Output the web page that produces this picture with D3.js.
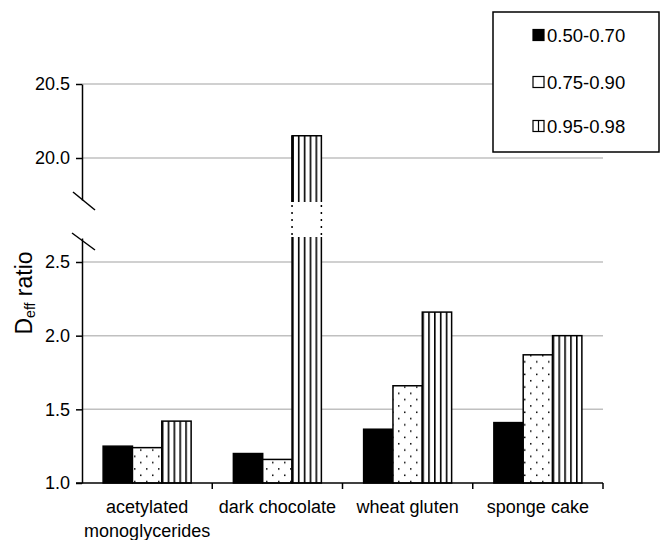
<!DOCTYPE html>
<html><head><meta charset="utf-8">
<script src="https://cdn.jsdelivr.net/npm/d3@7"></script>
<style>
body{margin:0;background:#fff}
svg{display:block}
text{font-family:"Liberation Sans",Arial,sans-serif;fill:#000}
</style></head>
<body><svg id="c" width="660" height="540"></svg>
<script>
// ---- data ----
const categories = ["acetylated monoglycerides", "dark chocolate", "wheat gluten", "sponge cake"];
const categoryLines = [["acetylated", "monoglycerides"], ["dark chocolate"], ["wheat gluten"], ["sponge cake"]];
const seriesNames = ["0.50-0.70", "0.75-0.90", "0.95-0.98"];
const values050 = [1.25, 1.20, 1.365, 1.41];
const values075 = [1.24, 1.16, 1.66, 1.87];
const values095 = [1.42, 20.15, 2.16, 2.00];
const upperTicks = [20.0, 20.5];
const lowerTicks = [1.0, 1.5, 2.0, 2.5];
const series = [values050, values075, values095];

// ---- layout ----
const svg = d3.select("#c");
const left = 82, right = 603, base = 483;
const x = d3.scaleBand().domain(categories).range([left, right]);
const xs = d3.scaleBand().domain(seriesNames).range([0, x.bandwidth()]).paddingOuter(0.72);
const yLow = d3.scaleLinear().domain([1.0, 2.5]).range([base, 262]);
const yUp = d3.scaleLinear().domain([20.0, 20.5]).range([158, 84]);
const upAxisMin = yUp.invert(200), lowAxisMax = yLow.invert(238);
const barUpStart = yUp.invert(202), barLowEnd = yLow.invert(237);

const defs = svg.append("defs");
const pd = defs.append("pattern").attr("id", "dots").attr("patternUnits", "userSpaceOnUse")
  .attr("width", 12).attr("height", 12.6);
pd.append("rect").attr("width", 12).attr("height", 12.6).attr("fill", "#fff");
pd.append("rect").attr("x", 2).attr("y", 2).attr("width", 1.5).attr("height", 1.5).attr("fill", "#000");
pd.append("rect").attr("x", 8).attr("y", 8.3).attr("width", 1.5).attr("height", 1.5).attr("fill", "#000");
const pv = defs.append("pattern").attr("id", "vert").attr("patternUnits", "objectBoundingBox")
  .attr("width", 0.2).attr("height", 1);
pv.append("rect").attr("width", 20).attr("height", 2000).attr("fill", "#fff");
pv.append("rect").attr("x", 0).attr("width", 1.6).attr("height", 2000).attr("fill", "#000");
const fills = ["#000", "url(#dots)", "url(#vert)"];

// gridlines
const grid = svg.append("g").attr("stroke", "#c0c0c0").attr("stroke-width", 1.5);
upperTicks.forEach(t => grid.append("line").attr("x1", left).attr("x2", right).attr("y1", yUp(t)).attr("y2", yUp(t)));
lowerTicks.filter(t => t > 1).forEach(t => grid.append("line").attr("x1", left).attr("x2", right).attr("y1", yLow(t)).attr("y2", yLow(t)));

// bars
const gb = svg.append("g");
categories.forEach((c, i) => {
  series.forEach((vals, j) => {
    const v = vals[i];
    const bx = x(c) + xs(seriesNames[j]), bw = xs.bandwidth();
    if (v <= lowAxisMax) {
      gb.append("rect").attr("x", bx).attr("y", yLow(v)).attr("width", bw).attr("height", yLow(1.0) - yLow(v))
        .attr("fill", fills[j]).attr("stroke", "#000").attr("stroke-width", 1.5);
    } else {
      const yl = yLow(barLowEnd), yu = yUp(barUpStart), yt = yUp(v);
      gb.append("rect").attr("x", bx).attr("y", yl).attr("width", bw).attr("height", yLow(1.0) - yl).attr("fill", fills[j]);
      gb.append("rect").attr("x", bx).attr("y", yt).attr("width", bw).attr("height", yu - yt).attr("fill", fills[j]);
      const ol = gb.append("g").attr("stroke", "#000").attr("stroke-width", 1.5).attr("fill", "none");
      ol.append("path").attr("d", `M${bx},${yl}V${base}H${bx + bw}V${yl}`);
      ol.append("path").attr("d", `M${bx},${yu}V${yt}H${bx + bw}V${yu}`);
      ol.append("line").attr("x1", bx + 0.5).attr("x2", bx + 0.5).attr("y1", yt).attr("y2", yu).attr("stroke-width", 2.5);
      const dl = gb.append("g").attr("stroke", "#000").attr("stroke-width", 1.5).attr("stroke-dasharray", "2,5");
      dl.append("line").attr("x1", bx).attr("x2", bx).attr("y1", yu + 3).attr("y2", yl);
      dl.append("line").attr("x1", bx + bw).attr("x2", bx + bw).attr("y1", yu + 3).attr("y2", yl);
    }
  });
});

// axes
const upScale = yUp.copy().domain([upAxisMin, 20.5]).range([yUp(upAxisMin), yUp(20.5)]);
const lowScale = yLow.copy().domain([1.0, lowAxisMax]).range([yLow(1.0), yLow(lowAxisMax)]);
function styleAxis(g) {
  g.selectAll("path, line").attr("stroke", "#000").attr("stroke-width", 1.5);
  g.selectAll("text").style("font-size", "18px").attr("fill", "#000");
}
svg.append("g").attr("transform", `translate(${left},0)`)
  .call(d3.axisLeft(upScale).tickValues(upperTicks).tickFormat(d3.format(".1f")).tickSize(6).tickSizeOuter(0).tickPadding(6))
  .call(styleAxis);
svg.append("g").attr("transform", `translate(${left},0)`)
  .call(d3.axisLeft(lowScale).tickValues(lowerTicks).tickFormat(d3.format(".1f")).tickSize(6).tickSizeOuter(0).tickPadding(6))
  .call(styleAxis);
// break marks
const brk = svg.append("g").attr("stroke", "#000").attr("stroke-width", 1.5);
brk.append("line").attr("x1", 73).attr("y1", 192).attr("x2", 95).attr("y2", 210);
brk.append("line").attr("x1", 72).attr("y1", 233).attr("x2", 95).attr("y2", 250);

// x axis
const xb = svg.append("g");
xb.append("line").attr("x1", left - 6).attr("x2", right).attr("y1", base).attr("y2", base)
  .attr("stroke", "#000").attr("stroke-width", 1.5);
categories.forEach(c => {
  xb.append("line").attr("x1", x(c) + x.step()).attr("x2", x(c) + x.step()).attr("y1", base).attr("y2", base + 6)
    .attr("stroke", "#000").attr("stroke-width", 1.5);
});
categories.forEach((c, i) => {
  const t = xb.append("text").attr("text-anchor", "middle").style("font-size", "18px")
    .attr("x", x(c) + x.bandwidth() / 2).attr("y", 513);
  categoryLines[i].forEach((ln, k) => t.append("tspan").attr("x", x(c) + x.bandwidth() / 2).attr("dy", k ? 24 : 0).text(ln));
});

// y title
const yt = svg.append("text").attr("transform", "translate(32,293) rotate(-90)").attr("text-anchor", "middle")
  .style("font-size", "23px");
yt.append("tspan").text("D");
yt.append("tspan").style("font-size", "14px").attr("dy", 3).text("eff");
yt.append("tspan").attr("dy", -3).text(" ratio");

// legend
const lg = svg.append("g");
lg.append("rect").attr("x", 493).attr("y", 12).attr("width", 166).attr("height", 140)
  .attr("fill", "#fff").attr("stroke", "#000").attr("stroke-width", 1.5);
const ly = [35, 82, 126];
seriesNames.forEach((s, j) => {
  const g = lg.append("g").attr("transform", `translate(533,${ly[j]})`);
  g.append("rect").attr("x", 0).attr("y", -5.5).attr("width", 11).attr("height", 11)
    .attr("fill", j === 0 ? "#000" : "#fff").attr("stroke", "#000").attr("stroke-width", 1.2);
  if (j === 2) g.append("line").attr("x1", 5.5).attr("x2", 5.5).attr("y1", -5.5).attr("y2", 5.5).attr("stroke", "#000").attr("stroke-width", 1.2);
  g.append("text").attr("x", 14).attr("y", 6.5).style("font-size", "18.5px").text(s);
});
</script>
</body></html>
